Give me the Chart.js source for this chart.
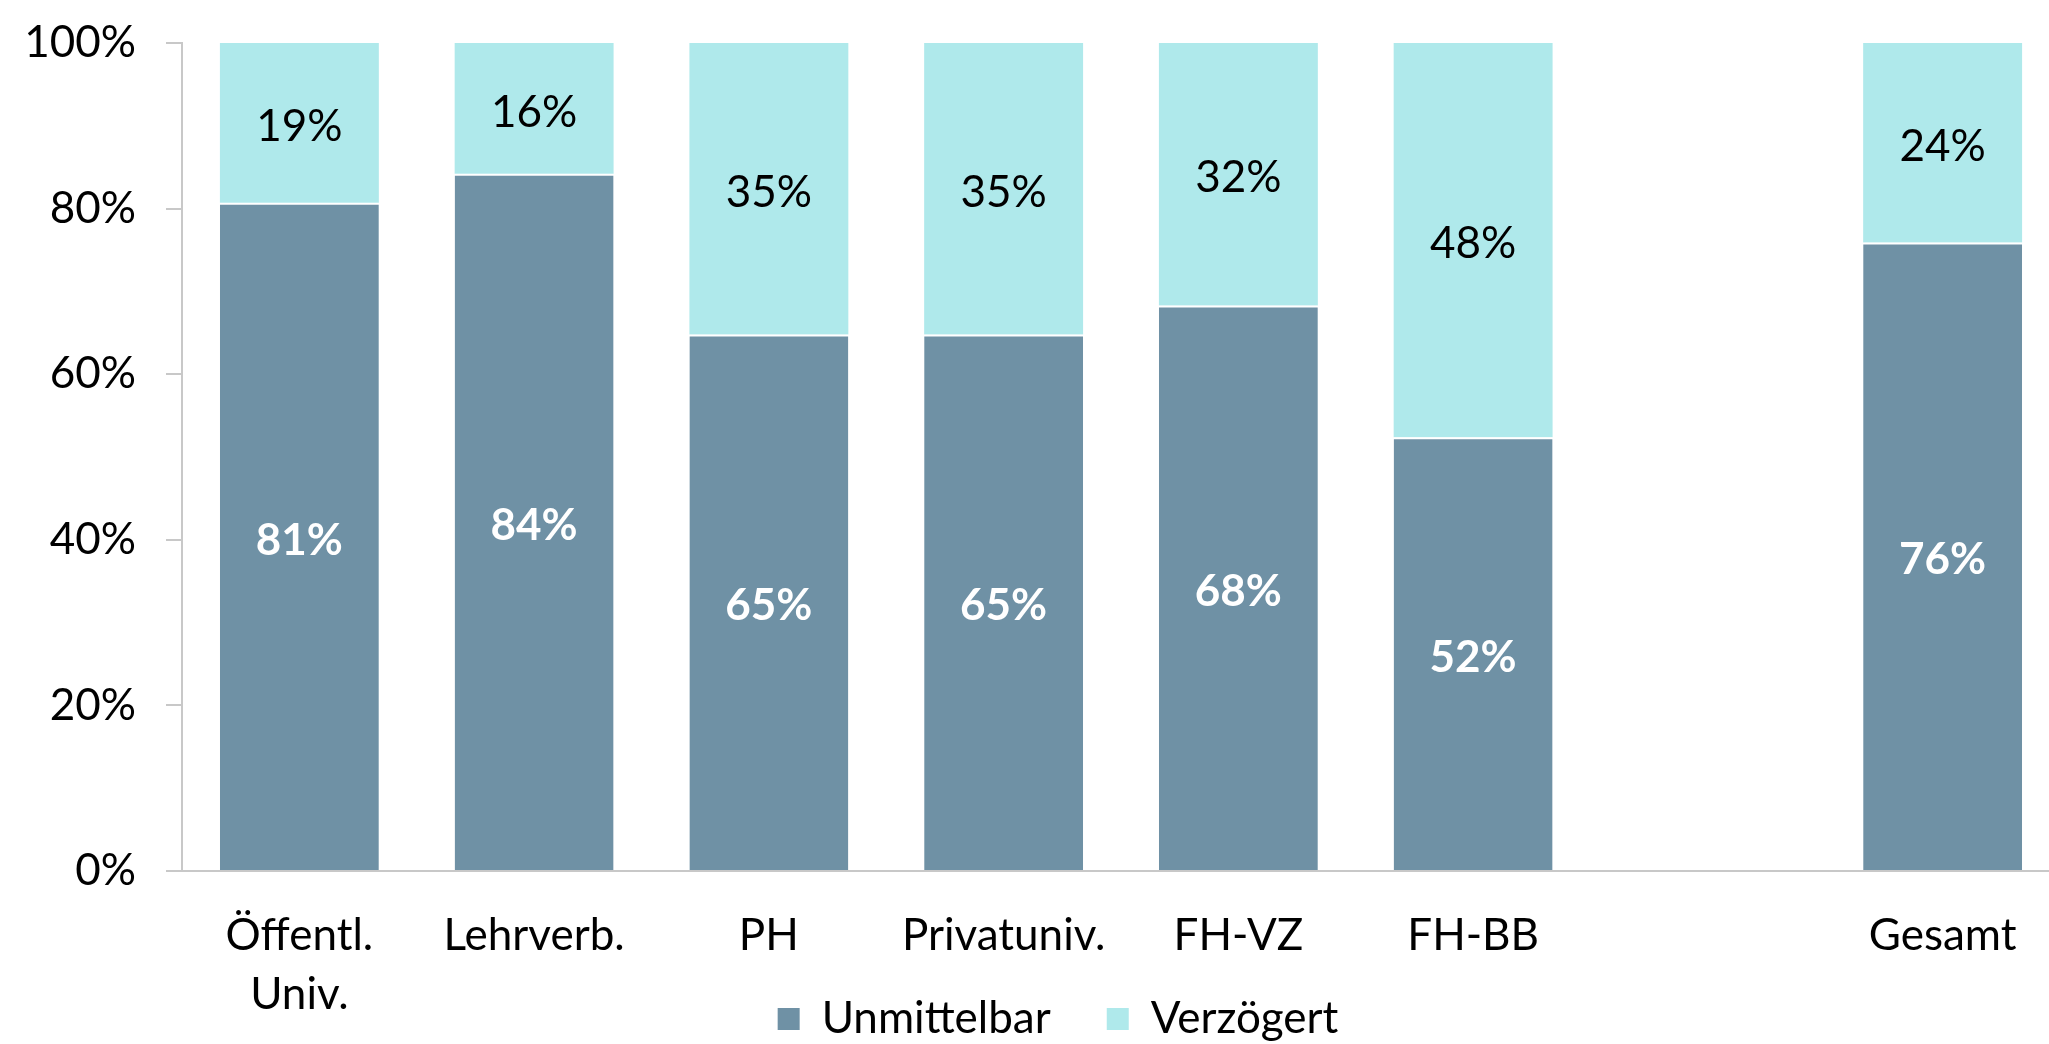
<!DOCTYPE html>
<html lang="de">
<head>
  <meta charset="UTF-8">
  <title>Unmittelbar / Verzögert</title>
  <script src="https://cdn.jsdelivr.net/npm/chart.js@4/dist/chart.umd.min.js"></script>
  <style>
    html, body { margin: 0; padding: 0; background: #fff; overflow: hidden; }
    #wrap { width: 2060px; height: 1044px; }
  </style>
</head>
<body>
  <div id="wrap"><canvas id="myChart"></canvas></div>
  <script>
    // Daten (Anteile in %)
    var categories = [['Öffentl.', 'Univ.'], 'Lehrverb.', 'PH', 'Privatuniv.', 'FH-VZ', 'FH-BB', '', 'Gesamt'];
    var unmittelbar = [80.7, 84.2, 64.8, 64.8, 68.3, 52.4, null, 75.9];
    var verzoegert = [19.3, 15.8, 35.2, 35.2, 31.7, 47.6, null, 24.1];
    var seriesNames = ['Unmittelbar', 'Verzögert'];
    var yTicks = [0, 20, 40, 60, 80, 100];

    var FONT = 'Lato';
    var legendPad = 56;
    var padLeft = 56;
    var padBottom = -7;

    // Beschriftung in der Mitte jedes Balkensegments
    var segmentLabels = {
      id: 'segmentLabels',
      afterDatasetsDraw: function(chart) {
        var ctx = chart.ctx;
        chart.data.datasets.forEach(function(ds, i) {
          var meta = chart.getDatasetMeta(i);
          meta.data.forEach(function(bar, j) {
            var v = ds.data[j];
            if (v == null) return;
            ctx.save();
            ctx.font = (i === 0 ? 'bold ' : '') + '44px ' + FONT;
            ctx.fillStyle = i === 0 ? '#ffffff' : '#000000';
            ctx.textAlign = 'center';
            ctx.textBaseline = 'middle';
            ctx.fillText(Math.round(v) + '%', bar.x, (bar.y + bar.base) / 2 + 4);
            ctx.restore();
          });
        });
      }
    };

    var noClip = function() { return undefined; };

    var ctx = document.getElementById('myChart').getContext('2d');
    var myChart = new Chart(ctx, {
      type: 'bar',
      data: {
        labels: categories,
        datasets: [{
          label: seriesNames[0],
          data: unmittelbar,
          backgroundColor: '#6f91a5',
          borderColor: '#ffffff',
          borderWidth: { top: 2, left: 0, right: 0, bottom: 0 },
          borderSkipped: 'start'
        }, {
          label: seriesNames[1],
          data: verzoegert,
          backgroundColor: '#afe9eb',
          borderWidth: 0
        }]
      },
      options: {
        responsive: true,
        maintainAspectRatio: false,
        animation: false,
        layout: { padding: { top: 43, left: padLeft, right: 0, bottom: padBottom } },
        datasets: {
          bar: { categoryPercentage: 1, barPercentage: 0.677 }
        },
        scales: {
          x: {
            stacked: true,
            grid: { display: false, drawTicks: false },
            border: { display: true, color: '#c8c8c8', width: 2 },
            ticks: {
              color: '#000',
              font: { family: FONT, size: 44, lineHeight: 1.34 },
              padding: 35,
              maxRotation: 0,
              autoSkip: false
            },
            afterFit: function(scale) {
              scale.height = 1044 - padBottom - (54 + legendPad) - 871;
              scale.paddingLeft = 0;
              scale.paddingRight = 0;
              // die zweizeilige Beschriftung ragt in den Legendenbereich
              scale._computeLabelArea = noClip;
            }
          },
          y: {
            stacked: true,
            min: 0,
            max: 100,
            afterBuildTicks: function(scale) {
              scale.ticks = yTicks.map(function(v) { return { value: v }; });
            },
            grid: { drawOnChartArea: false, drawTicks: true, tickLength: 16, color: '#c8c8c8', lineWidth: 2 },
            border: { display: true, color: '#c8c8c8', width: 2 },
            ticks: {
              color: '#000',
              font: { family: FONT, size: 44 },
              padding: 30,
              callback: function(v) { return v + '%'; }
            },
            afterFit: function(scale) {
              scale.width = 182 - padLeft;
              scale.paddingTop = 0;
              scale.paddingBottom = 0;
              scale._computeLabelArea = noClip;
            }
          }
        },
        plugins: {
          legend: {
            position: 'bottom',
            labels: {
              color: '#000',
              font: { family: FONT, size: 44 },
              boxWidth: 22,
              boxHeight: 22,
              padding: legendPad,
              generateLabels: function(chart) {
                return chart.data.datasets.map(function(ds, i) {
                  return {
                    text: ds.label,
                    fillStyle: ds.backgroundColor,
                    strokeStyle: ds.backgroundColor,
                    lineWidth: 0,
                    fontColor: '#000',
                    hidden: !chart.isDatasetVisible(i),
                    datasetIndex: i
                  };
                });
              }
            }
          },
          tooltip: { enabled: false }
        }
      },
      plugins: [segmentLabels]
    });
  </script>
</body>
</html>
